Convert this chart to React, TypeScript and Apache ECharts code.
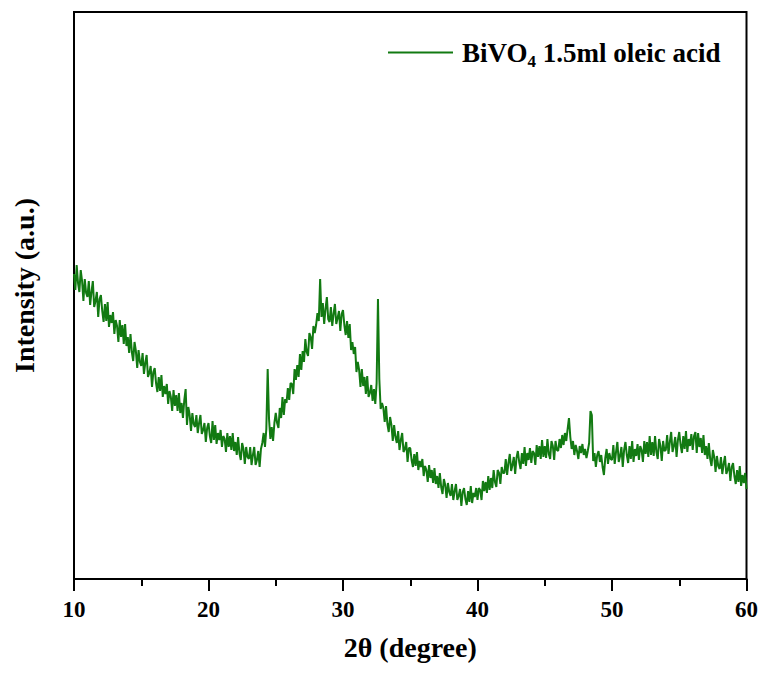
import React, { useEffect, useRef } from "react";
import * as echarts from "echarts";

// 2θ sampling: starts at 10°, one value every 0.1°
const twoThetaStart = 10;
const twoThetaStep = 0.1;

// Intensity (arbitrary units), one row per degree (x.0 … x.9)
const intensity: number[] = [
  305, 289, 314, 296, 287, 309, 298, 278, 300, 286, // 10
  282, 298, 274, 287, 298, 272, 278, 287, 262, 280, // 11
  284, 268, 257, 275, 258, 277, 252, 264, 256, 267, // 12
  245, 259, 253, 237, 259, 242, 254, 235, 255, 233, // 13
  242, 226, 245, 227, 218, 237, 228, 211, 229, 217, // 14
  213, 226, 205, 216, 224, 202, 206, 213, 192, 207, // 15
  211, 196, 187, 202, 188, 204, 182, 193, 185, 195, // 16
  175, 188, 182, 168, 189, 173, 184, 168, 186, 166, // 17
  176, 161, 179, 190, 154, 172, 164, 148, 166, 155, // 18
  152, 164, 146, 156, 164, 145, 149, 156, 137, 151, // 19
  156, 143, 136, 158, 139, 154, 135, 146, 139, 149, // 20
  132, 143, 140, 127, 146, 132, 143, 129, 146, 128, // 21
  137, 124, 142, 126, 119, 136, 130, 115, 132, 122, // 22
  120, 132, 114, 124, 132, 114, 119, 128, 112, 130, // 23
  136, 146, 132, 150, 210, 160, 140, 152, 138, 156, // 24
  166, 156, 151, 171, 161, 182, 164, 180, 176, 191, // 25
  179, 196, 195, 185, 210, 199, 214, 202, 225, 209, // 26
  228, 217, 240, 227, 223, 246, 242, 230, 253, 246, // 27
  254, 266, 258, 300, 262, 276, 255, 270, 282, 260, // 28
  257, 272, 253, 265, 275, 255, 261, 268, 248, 265, // 29
  269, 254, 244, 258, 241, 255, 229, 237, 225, 232, // 30
  207, 217, 209, 192, 210, 193, 202, 185, 203, 182, // 31
  186, 194, 178, 190, 175, 196, 280, 200, 170, 176, // 32
  171, 157, 173, 155, 147, 162, 154, 138, 154, 142, // 33
  136, 148, 129, 139, 146, 127, 130, 137, 117, 131, // 34
  131, 119, 112, 125, 113, 127, 109, 118, 112, 120, // 35
  103, 113, 109, 97, 114, 101, 109, 96, 111, 95,    // 36
  103, 91, 106, 92, 85, 100, 94, 81, 96, 87,        // 37
  83, 95, 79, 88, 95, 79, 83, 90, 73, 87,           // 38
  91, 80, 74, 88, 77, 93, 76, 86, 82, 91,           // 39
  79, 91, 89, 79, 98, 88, 97, 86, 103, 89,          // 40
  101, 91, 109, 97, 92, 109, 106, 95, 112, 106,     // 41
  106, 120, 104, 116, 125, 108, 114, 122, 105, 121, // 42
  128, 117, 110, 126, 115, 132, 113, 126, 119, 131, // 43
  116, 128, 126, 114, 134, 122, 133, 120, 139, 122, // 44
  133, 121, 140, 125, 120, 138, 133, 119, 138, 129, // 45
  128, 140, 131, 144, 134, 146, 138, 150, 161, 142, // 46
  130, 138, 124, 134, 128, 120, 133, 126, 135, 124, // 47
  130, 121, 128, 136, 168, 164, 118, 126, 112, 124, // 48
  128, 117, 124, 112, 104, 121, 130, 115, 126, 120, // 49
  119, 134, 115, 127, 137, 117, 123, 132, 112, 129, // 50
  137, 124, 116, 133, 120, 138, 117, 130, 123, 135, // 51
  119, 133, 129, 117, 138, 125, 137, 122, 143, 124, // 52
  137, 123, 143, 127, 120, 140, 133, 118, 138, 128, // 53
  129, 144, 125, 137, 147, 127, 133, 142, 122, 139, // 54
  147, 134, 126, 143, 130, 148, 127, 140, 133, 145, // 55
  129, 143, 147, 126, 146, 132, 141, 126, 144, 124, // 56
  133, 120, 136, 120, 113, 129, 122, 107, 123, 113, // 57
  110, 122, 105, 115, 123, 105, 109, 116, 98, 112,  // 58
  116, 103, 95, 109, 97, 113, 93, 104, 96, 106,     // 59
  90,                                               // 60
];

const xTicks = [10, 20, 30, 40, 50, 60];
const seriesName = "BiVO4 1.5ml oleic acid";
const xTitle = "2θ (degree)";
const yTitle = "Intensity (a.u.)";

const FONT = "'Liberation Serif', 'Times New Roman', serif";
const GREEN = "#127a12";

export default function App() {
  const ref = useRef<HTMLDivElement>(null);

  useEffect(() => {
    if (!ref.current) return;
    const chart = echarts.init(ref.current, undefined, { renderer: "svg" });
    const data = intensity.map((v, i) => [
      Math.round((twoThetaStart + i * twoThetaStep) * 10) / 10,
      v,
    ]);
    chart.setOption({
      animation: false,
      backgroundColor: "#ffffff",
      grid: {
        left: 74,
        right: 14,
        top: 12,
        bottom: 94,
        show: true,
        borderColor: "#000",
        borderWidth: 2,
        backgroundColor: "transparent",
      },
      legend: {
        data: [seriesName],
        left: 388,
        top: 39,
        padding: 0,
        icon: "rect",
        itemWidth: 65,
        itemHeight: 2,
        itemGap: 0,
        formatter: () => "{a|BiVO}{s|4}{a| 1.5ml oleic acid}",
        textStyle: {
          padding: [0, 0, 0, 4],
          rich: {
            a: {
              fontFamily: FONT,
              fontWeight: "bold",
              fontSize: 27,
              color: "#000",
            },
            s: {
              fontFamily: FONT,
              fontWeight: "bold",
              fontSize: 17,
              color: "#000",
              padding: [18, 0, 0, 0],
            },
          },
        },
      },
      xAxis: {
        type: "value",
        min: xTicks[0],
        max: xTicks[xTicks.length - 1],
        interval: 10,
        name: xTitle,
        nameLocation: "middle",
        nameGap: 54,
        nameTextStyle: {
          fontFamily: FONT,
          fontWeight: "bold",
          fontSize: 28,
          color: "#000",
        },
        axisLine: { show: true, lineStyle: { color: "#000", width: 2 } },
        axisTick: {
          show: true,
          inside: false,
          length: 12,
          lineStyle: { color: "#000", width: 2 },
        },
        minorTick: {
          show: true,
          splitNumber: 2,
          length: 7,
          lineStyle: { color: "#000", width: 2 },
        },
        axisLabel: {
          margin: 19,
          fontFamily: FONT,
          fontWeight: "bold",
          fontSize: 23,
          color: "#000",
        },
        splitLine: { show: false },
      },
      yAxis: {
        type: "value",
        min: 0,
        max: 567,
        name: yTitle,
        nameLocation: "middle",
        nameRotate: 90,
        nameGap: 36,
        nameTextStyle: {
          fontFamily: FONT,
          fontWeight: "bold",
          fontSize: 28,
          color: "#000",
          padding: [0, 0, 0, 20],
        },
        axisLine: { show: true, lineStyle: { color: "#000", width: 2 } },
        axisTick: { show: false },
        axisLabel: { show: false },
        splitLine: { show: false },
      },
      series: [
        {
          name: seriesName,
          type: "line",
          data,
          showSymbol: false,
          symbol: "none",
          lineStyle: { color: GREEN, width: 2 },
          itemStyle: { color: GREEN },
        },
      ],
    });
    return () => chart.dispose();
  }, []);

  return (
    <div
      ref={ref}
      style={{ position: "absolute", left: 0, top: 0, width: 761, height: 673 }}
    />
  );
}
